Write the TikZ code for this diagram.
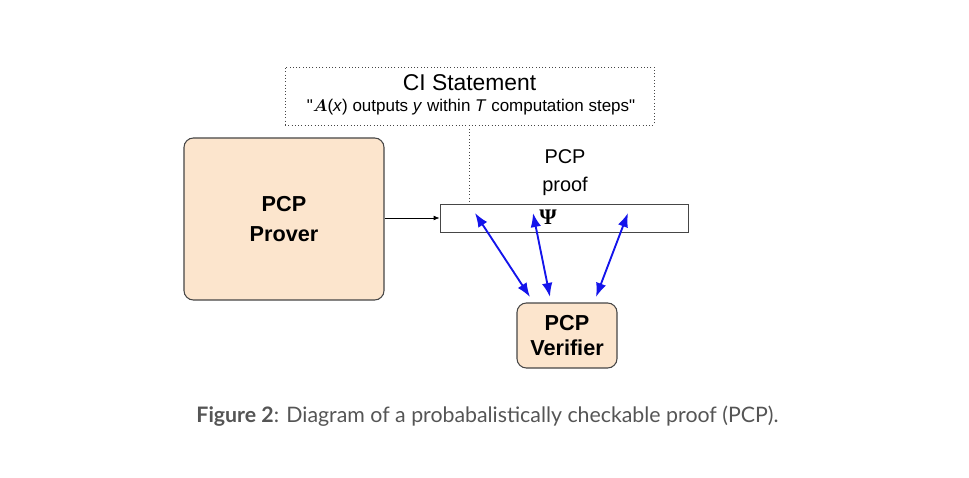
\documentclass[tikz,border=0pt]{standalone}
\usepackage{amsmath}
\usepackage{fontspec}
\setmainfont{Liberation Sans}
\newfontfamily\capfont{Lato}
\newfontfamily\psifont{Liberation Serif}
\usepackage{tikz}
\usetikzlibrary{positioning, arrows.meta, calc}
\definecolor{peach}{RGB}{252, 229, 205}
\definecolor{edge}{RGB}{70, 70, 70}
\definecolor{arrowblue}{RGB}{20, 20, 235}
\definecolor{captiongray}{RGB}{85, 85, 85}

\begin{document}
\begin{tikzpicture}[x=0.03cm, y=-0.03cm,
    party/.style={fill=peach, draw=edge, line width=0.9pt, rounded corners=8pt, align=center, font=\bfseries\fontsize{18.5}{22}\selectfont},
    query/.style={arrowblue, line width=1.6pt, {Latex[length=12pt,width=9pt]}-{Latex[length=12pt,width=9pt]}}]
    \useasboundingbox (0,0) rectangle (969,478);

    % Statement box
    \node[draw=edge, dotted, line width=0.8pt, minimum width=11.07cm, minimum height=1.74cm] (stmt) at (469.5,96) {};
    \node[font=\fontsize{19.5}{22}\selectfont] (title) at (469.5,83) {CI Statement};
    \node[font=\fontsize{14.5}{16}\selectfont] (claim) at (471,107) {\textquotedbl$\boldsymbol{A}$(\textit{x}) outputs \textit{y} within \textit{T} computation steps\textquotedbl};

    % Prover, proof and verifier
    \node[party, minimum width=6cm, minimum height=4.86cm] (prover) at (284,219) {PCP\\[3pt]Prover};
    \node[draw=edge, line width=0.8pt, minimum width=7.44cm, minimum height=0.84cm] (proof) at (564,218) {};
    \node[font=\psifont\bfseries\fontsize{19}{20}\selectfont] (psi) at (548,217) {Ψ};
    \node[font=\fontsize{17}{20}\selectfont, align=center] (prooflbl) at (565,173) {PCP\\[4pt]proof};
    \node[party, minimum width=3cm, minimum height=1.95cm] (verifier) at (567,335.5) {PCP\\Verifier};

    % Connectors
    \draw[black, line width=0.6pt, -{Latex[length=5pt,width=4pt]}] (prover.east |- proof.west) -- (proof.west);
    \draw[edge, dotted, line width=0.8pt] (stmt.south) -- (stmt.south |- proof.north);

    \coordinate (q1) at (475,213);
    \coordinate (q2) at (533,213);
    \coordinate (q3) at (628,213);
    \coordinate (v1) at (530,297);
    \coordinate (v2) at (550,297);
    \coordinate (v3) at (596,297);
    \draw[query] (q1) -- (v1);
    \draw[query] (q2) -- (v2);
    \draw[query] (q3) -- (v3);

    % Caption
    \node[text=captiongray, font=\capfont\fontsize{18.2}{21}\selectfont] (caption) at (487.5,416) {\textbf{Figure 2}: Diagram of a probabalistically checkable proof (PCP).};
\end{tikzpicture}
\end{document}
